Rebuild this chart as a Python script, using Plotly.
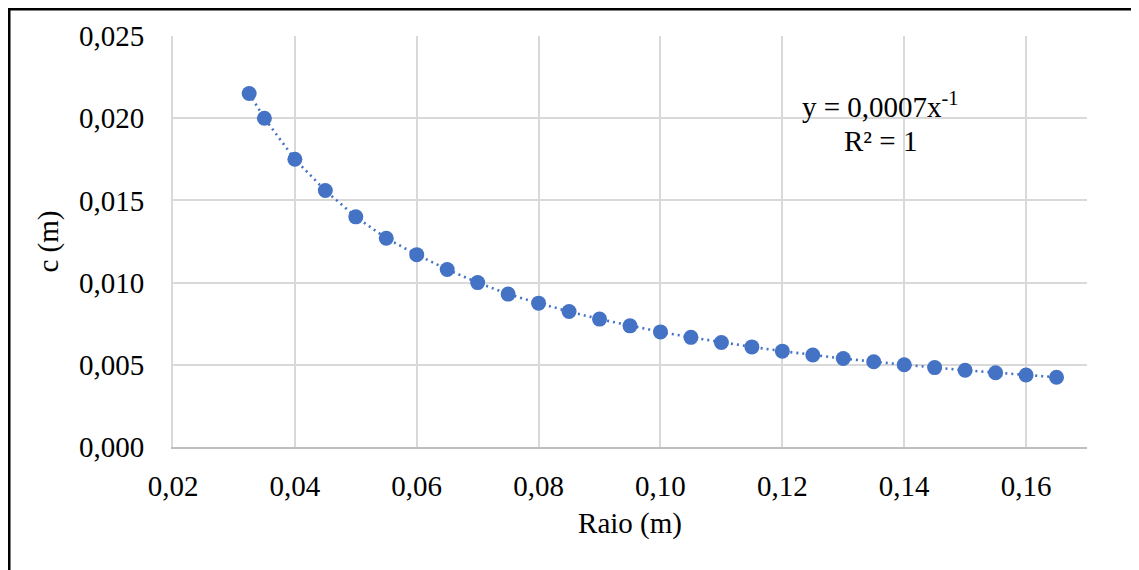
import plotly.graph_objects as go

# Data
raio = [0.0325, 0.035, 0.040, 0.045, 0.050, 0.055, 0.060, 0.065, 0.070, 0.075,
        0.080, 0.085, 0.090, 0.095, 0.100, 0.105, 0.110, 0.115, 0.120, 0.125,
        0.130, 0.135, 0.140, 0.145, 0.150, 0.155, 0.160, 0.165]
c_vals = [0.0215, 0.0200, 0.0175, 0.0156, 0.0140, 0.0127, 0.0117, 0.0108, 0.0100, 0.0093,
          0.00875, 0.00824, 0.00778, 0.00737, 0.00700, 0.00667, 0.00636, 0.00609, 0.00583, 0.00560,
          0.00538, 0.00519, 0.00500, 0.00483, 0.00467, 0.00452, 0.00438, 0.00424]
x_ticks = [0.02, 0.04, 0.06, 0.08, 0.10, 0.12, 0.14, 0.16]
y_ticks = [0.000, 0.005, 0.010, 0.015, 0.020, 0.025]

BLUE = "#4472C4"
FONT = "Liberation Serif, Times New Roman, serif"
FS = 29

# page offset (default body margin of the html page)
OFF = 8
W, H = 1139, 570
# plot area in page pixels
L, R, T, B = 173, 1087, 36, 447

def px_x(p):
    return (p - L) / (R - L)

def px_y(p):
    return (B - p) / (B - T)

fig = go.Figure()
# trendline (dotted)
fig.add_trace(go.Scatter(x=raio, y=c_vals, mode="lines",
                         line=dict(color=BLUE, width=2.6, dash="2px,4px"),
                         hoverinfo="skip", showlegend=False))
# markers
fig.add_trace(go.Scatter(x=raio, y=c_vals, mode="markers",
                         marker=dict(color=BLUE, size=15, line=dict(width=0)),
                         showlegend=False))

fig.update_layout(
    width=W, height=H,
    margin=dict(l=L - OFF, r=W + OFF - R, t=T - OFF, b=H + OFF - B, pad=0),
    paper_bgcolor="white", plot_bgcolor="white",
    separators=",.",
    font=dict(family=FONT, size=FS, color="black"),
    xaxis=dict(range=[0.02, 0.17], tickvals=x_ticks, tickformat=".2f",
               showgrid=True, gridcolor="#D9D9D9", gridwidth=1.8,
               showline=True, linecolor="#BFBFBF", linewidth=1.8,
               ticks="outside", ticklen=12, tickcolor="rgba(0,0,0,0)",
               zeroline=False,
               title=dict(text="Raio (m)", font=dict(size=FS), standoff=12)),
    yaxis=dict(range=[0, 0.025], tickvals=y_ticks, tickformat=".3f",
               showgrid=True, gridcolor="#D9D9D9", gridwidth=1.8,
               showline=True, linecolor="#D9D9D9", linewidth=1.8,
               ticks="outside", ticklen=21, tickcolor="rgba(0,0,0,0)",
               zeroline=False,
               title=dict(text="c (m)", font=dict(size=FS), standoff=12)),
    annotations=[
        dict(x=px_x(880), y=px_y(105), xref="paper", yref="paper",
             text="y = 0,0007x<sup>-1</sup>", showarrow=False,
             font=dict(size=FS, family=FONT), xanchor="center", yanchor="middle"),
        dict(x=px_x(880), y=px_y(141), xref="paper", yref="paper",
             text="R² = 1", showarrow=False,
             font=dict(size=FS, family=FONT), xanchor="center", yanchor="middle"),
    ],
    shapes=[
        dict(type="line", xref="paper", yref="paper",
             x0=px_x(9), x1=px_x(9), y0=px_y(5), y1=px_y(580),
             line=dict(color="black", width=3)),
        dict(type="line", xref="paper", yref="paper",
             x0=px_x(8), x1=px_x(1150), y0=px_y(9), y1=px_y(9),
             line=dict(color="black", width=3)),
    ],
)

fig.write_html("out.html")
